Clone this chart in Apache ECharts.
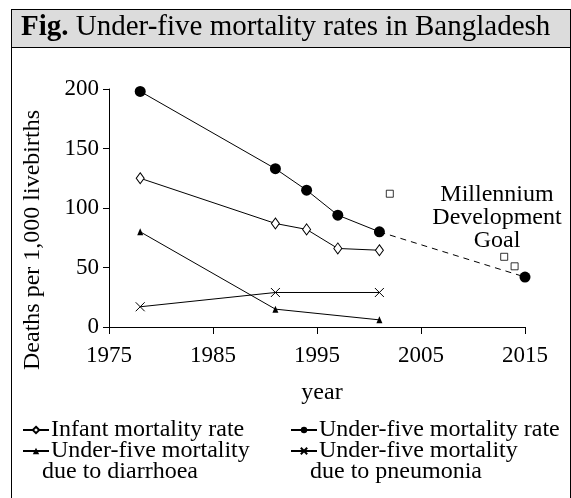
<!DOCTYPE html>
<html>
<head>
<meta charset="utf-8">
<script src="https://cdn.jsdelivr.net/npm/echarts@6/dist/echarts.min.js"></script>
<style>
html,body{margin:0;padding:0;background:#fff;}
#chart{width:571px;height:498px;}
</style>
</head>
<body>
<div id="chart"></div>
<script>
// ---- data ----
var u5Years = [1978, 1991, 1994, 1997, 2001];
var u5Rate = [198, 133, 115, 94, 80];
var infantYears = [1978, 1991, 1994, 1997, 2001];
var infantRate = [125, 87, 82, 66, 64.5];
var diarYears = [1978, 1991, 2001];
var diarRate = [80, 15, 6];
var pneuYears = [1978, 1991, 2001];
var pneuRate = [17, 29, 29];
var goalYears = [2001, 2015];
var goalRate = [80, 42];
var mdgYears = [2002, 2013, 2014];
var mdgRate = [112, 59, 51];
var xTicks = [1975, 1985, 1995, 2005, 2015];
var yTicks = [0, 50, 100, 150, 200];

var FONT = '"Liberation Serif", "Times New Roman", serif';
var FS = 24;
function pairs(xs, ys) { return xs.map(function (x, i) { return [x, ys[i]]; }); }

var chart = echarts.init(document.getElementById('chart'), null, {renderer: 'canvas'});

var lineBase = {type: 'line', lineStyle: {color: '#000', width: 1}, z: 3};

var goalData = pairs(goalYears, goalRate).map(function (p, i) {
  return i === 0 ? {value: p, symbol: 'none'} : {value: p};
});

var legendText = {fontFamily: FONT, fontSize: FS, color: '#000', padding: [0, 0, 0, -3]};
function legendItem(name, left, top, label) {
  return {
    data: [name], left: left, top: top, itemWidth: 26, itemHeight: 8, itemGap: 0,
    padding: 0, textStyle: legendText, selectedMode: false,
    formatter: function () { return label; }
  };
}

chart.setOption({
  animation: false,
  backgroundColor: '#fff',
  title: {
    text: '{b|Fig.} Under-five mortality rates in Bangladesh',
    left: 21, top: 13, padding: 0,
    textStyle: {
      fontFamily: FONT, fontSize: 29, fontWeight: 'normal', color: '#000',
      rich: {b: {fontFamily: FONT, fontSize: 29, fontWeight: 'bold', color: '#000'}}
    }
  },
  grid: {left: 109, top: 89, right: 46, bottom: 171},
  xAxis: {
    type: 'value', min: xTicks[0], max: xTicks[xTicks.length - 1], interval: 10,
    axisLine: {lineStyle: {color: '#000', width: 1}},
    axisTick: {show: true, inside: false, length: 7, lineStyle: {color: '#000'}},
    axisLabel: {fontFamily: FONT, fontSize: 23, color: '#000', margin: 17,
                formatter: function (v) { return String(v); }},
    splitLine: {show: false}
  },
  yAxis: {
    type: 'value', min: yTicks[0], max: yTicks[yTicks.length - 1], interval: 50,
    axisLine: {show: true, lineStyle: {color: '#000', width: 1}},
    axisTick: {show: true, inside: false, length: 6, lineStyle: {color: '#000'}},
    axisLabel: {fontFamily: FONT, fontSize: 23, color: '#000', margin: 10},
    splitLine: {show: false}
  },
  legend: [
    legendItem('Infant mortality rate', 22, 418, 'Infant mortality rate'),
    legendItem('Under-five mortality due to diarrhoea', 22, 439, 'Under-five mortality'),
    legendItem('Under-five mortality rate', 290, 418, 'Under-five mortality rate'),
    legendItem('Under-five mortality due to pneumonia', 290, 439, 'Under-five mortality')
  ],
  graphic: [
    {type: 'line', shape: {x1: 11.5, y1: 9, x2: 11.5, y2: 498}, style: {stroke: '#000', lineWidth: 1}, silent: true},
    {type: 'line', shape: {x1: 570.5, y1: 9, x2: 570.5, y2: 498}, style: {stroke: '#000', lineWidth: 1}, silent: true},
    {type: 'rect', shape: {x: 11.5, y: 9.5, width: 559, height: 38}, style: {fill: '#dcdcdc', stroke: '#000', lineWidth: 1}, z: -1, silent: true},
    {type: 'text', x: 33, y: 240, rotation: Math.PI / 2,
     style: {text: 'Deaths per 1,000 livebirths', fontFamily: FONT, fontSize: FS, fill: '#000', textAlign: 'center', textVerticalAlign: 'middle'}},
    {type: 'text', x: 322, y: 393,
     style: {text: 'year', fontFamily: FONT, fontSize: FS, fill: '#000', textAlign: 'center', textVerticalAlign: 'middle'}},
    {type: 'text', x: 497, y: 218,
     style: {text: 'Millennium\nDevelopment\nGoal', fontFamily: FONT, fontSize: FS, lineHeight: 23, fill: '#000', textAlign: 'center', textVerticalAlign: 'middle'}},
    {type: 'text', x: 42, y: 472,
     style: {text: 'due to diarrhoea', fontFamily: FONT, fontSize: FS, fill: '#000', textAlign: 'left', textVerticalAlign: 'middle'}},
    {type: 'text', x: 310, y: 472,
     style: {text: 'due to pneumonia', fontFamily: FONT, fontSize: FS, fill: '#000', textAlign: 'left', textVerticalAlign: 'middle'}}
  ],
  series: [
    Object.assign({}, lineBase, {
      name: 'Infant mortality rate', data: pairs(infantYears, infantRate),
      symbol: 'diamond', symbolSize: [8, 11],
      itemStyle: {color: '#fff', borderColor: '#000', borderWidth: 1}
    }),
    Object.assign({}, lineBase, {
      name: 'Under-five mortality due to diarrhoea', data: pairs(diarYears, diarRate),
      symbol: 'triangle', symbolSize: [6, 7],
      itemStyle: {color: '#000', borderColor: '#000', borderWidth: 0}
    }),
    Object.assign({}, lineBase, {
      name: 'Under-five mortality rate', data: pairs(u5Years, u5Rate),
      symbol: 'circle', symbolSize: 11,
      itemStyle: {color: '#000'}
    }),
    Object.assign({}, lineBase, {
      name: 'Under-five mortality due to pneumonia', data: pairs(pneuYears, pneuRate),
      symbol: 'path://M0,0L10,10M0,10L10,0', symbolSize: 9,
      itemStyle: {color: 'rgba(0,0,0,0)', borderColor: '#000', borderWidth: 1}
    }),
    Object.assign({}, lineBase, {
      name: 'Goal projection', data: goalData,
      symbol: 'circle', symbolSize: 11,
      lineStyle: {color: '#000', width: 1, type: [6, 5]},
      itemStyle: {color: '#000'}
    }),
    {
      type: 'scatter', name: 'MDG', data: pairs(mdgYears, mdgRate),
      symbol: 'rect', symbolSize: 7,
      itemStyle: {color: '#fff', borderColor: '#000', borderWidth: 1}, z: 3
    }
  ]
});
</script>
</body>
</html>
